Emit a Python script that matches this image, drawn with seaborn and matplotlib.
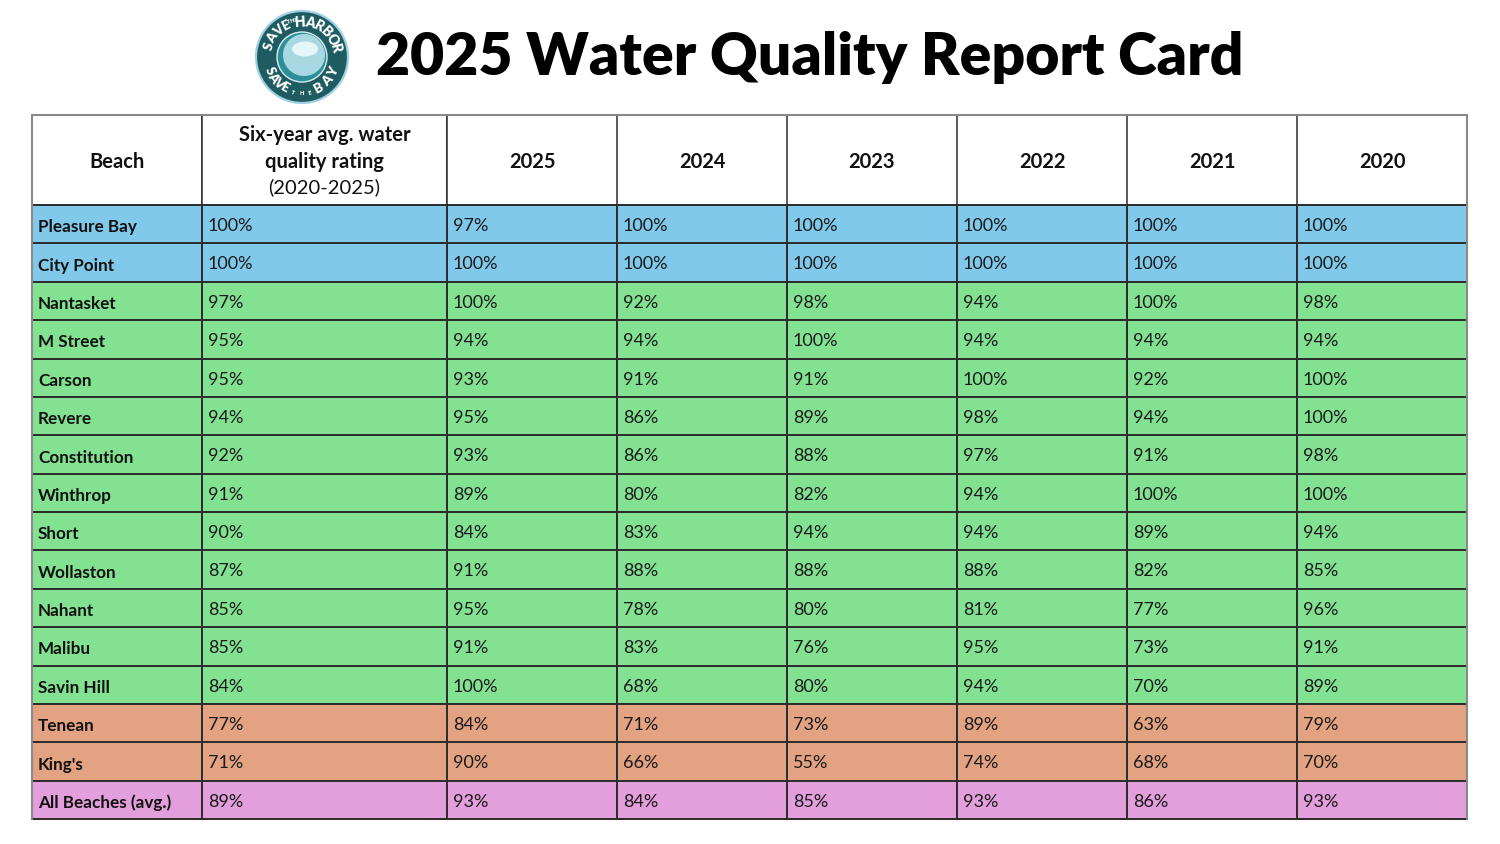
import numpy as np
import pandas as pd
import matplotlib
matplotlib.use("Agg")
import matplotlib.pyplot as plt
import seaborn as sns
from matplotlib.colors import ListedColormap
from matplotlib.patches import Circle, Ellipse

# ---------------- data ----------------
title = "2025 Water Quality Report Card"
beaches = ["Pleasure Bay", "City Point", "Nantasket", "M Street", "Carson", "Revere",
           "Constitution", "Winthrop", "Short", "Wollaston", "Nahant", "Malibu",
           "Savin Hill", "Tenean", "King's", "All Beaches (avg.)"]
six_year = [100, 100, 97, 95, 95, 94, 92, 91, 90, 87, 85, 85, 84, 77, 71, 89]
years = ["2025", "2024", "2023", "2022", "2021", "2020"]
v2025 = [97, 100, 100, 94, 93, 95, 93, 89, 84, 91, 95, 91, 100, 84, 90, 93]
v2024 = [100, 100, 92, 94, 91, 86, 86, 80, 83, 88, 78, 83, 68, 71, 66, 84]
v2023 = [100, 100, 98, 100, 91, 89, 88, 82, 94, 88, 80, 76, 80, 73, 55, 85]
v2022 = [100, 100, 94, 94, 100, 98, 97, 94, 94, 88, 81, 95, 94, 89, 74, 93]
v2021 = [100, 100, 100, 94, 92, 94, 91, 100, 89, 82, 77, 73, 70, 63, 68, 86]
v2020 = [100, 100, 98, 94, 100, 100, 98, 100, 94, 85, 96, 91, 89, 79, 70, 93]
tiers = ["top", "top"] + ["good"] * 11 + ["fair", "fair"] + ["avg"]
tier_names = ["top", "good", "fair", "avg"]
tier_colors = ["#80c9eb", "#82e292", "#e3a282", "#e39edc"]
header_beach = "Beach"
header_six = ["Six-year avg. water", "quality rating", "(2020-2025)"]

yearly = pd.DataFrame({"2025": v2025, "2024": v2024, "2023": v2023,
                       "2022": v2022, "2021": v2021, "2020": v2020})[years]

# ---------------- style ----------------
sns.set_theme(style="white")
plt.rcParams["font.family"] = ["Lato", "DejaVu Sans"]
TABLE_FONT = ["Lato", "DejaVu Sans"]

W, H = 1500, 844
fig = plt.figure(figsize=(15, 8.44), dpi=100)
fig.patch.set_facecolor("white")

top_px, head_px, bot_px = 115, 205, 819
nrows = len(beaches)
row_h = (bot_px - head_px) / nrows
head_rows = (head_px - top_px) / row_h

codes = np.array([tier_names.index(t) for t in tiers])
cmap = ListedColormap(tier_colors)
LINE = "#2e2e2e"
OUTER = "#8a8a8a"

def table_axes(x0, x1, ncols):
    ax = fig.add_axes([x0 / W, 1 - bot_px / H, (x1 - x0) / W, (bot_px - top_px) / H])
    mat = pd.DataFrame(np.repeat(codes[:, None], ncols, axis=1))
    sns.heatmap(mat, ax=ax, cmap=cmap, vmin=-0.5, vmax=3.5, cbar=False,
                linewidths=1.1, linecolor=LINE, xticklabels=False, yticklabels=False)
    ax.collections[0].set_clip_on(False)
    ax.set_xlim(0, ncols)
    ax.set_ylim(nrows, -head_rows)
    ax.set_facecolor("white")
    for s in ax.spines.values():
        s.set_visible(False)
    for xc in range(ncols + 1):
        ax.plot([xc, xc], [-head_rows, 0], color=LINE, lw=1.1, clip_on=False, zorder=3)
    ax.plot([0, ncols], [-head_rows, -head_rows], color=OUTER, lw=1.5, clip_on=False, zorder=4)
    return ax

edges = [32, 202, 447, 1467]
ax_b = table_axes(edges[0], edges[1], 1)
ax_s = table_axes(edges[1], edges[2], 1)
ax_y = table_axes(edges[2], edges[3], len(years))

ax_b.plot([0, 0], [-head_rows, nrows], color=OUTER, lw=1.5, clip_on=False, zorder=4)
ax_y.plot([6, 6], [-head_rows, nrows], color=OUTER, lw=1.5, clip_on=False, zorder=4)

NAME = 12.3
VAL = 13.0
HEAD = 14.5
pad_b = 6 / (edges[1] - edges[0])
pad_s = 6 / (edges[2] - edges[1])
pad_y = 6 / 170

for i, name in enumerate(beaches):
    ax_b.text(pad_b, i + 0.58, name, ha="left", va="center", fontsize=NAME,
              fontweight="bold", color="#111111", family=TABLE_FONT)
    ax_s.text(pad_s, i + 0.55, f"{six_year[i]}%", ha="left", va="center",
              fontsize=VAL, color="#1a1a1a", family=TABLE_FONT)
    for j, yr in enumerate(years):
        ax_y.text(j + pad_y, i + 0.55, f"{yearly[yr].iloc[i]}%", ha="left", va="center",
                  fontsize=VAL, color="#1a1a1a", family=TABLE_FONT)

hmid = -head_rows / 2
ax_b.text(0.5, hmid + 0.05, header_beach, ha="center", va="center", fontsize=HEAD,
          fontweight="bold", color="#111111", family=TABLE_FONT)
ax_s.text(0.5, hmid - 0.64, header_six[0], ha="center", va="center", fontsize=HEAD,
          fontweight="bold", color="#111111", family=TABLE_FONT)
ax_s.text(0.5, hmid + 0.04, header_six[1], ha="center", va="center", fontsize=HEAD,
          fontweight="bold", color="#111111", family=TABLE_FONT)
ax_s.text(0.5, hmid + 0.70, header_six[2], ha="center", va="center", fontsize=HEAD,
          color="#111111", family=TABLE_FONT)
for j, yr in enumerate(years):
    ax_y.text(j + 0.5, hmid + 0.05, yr, ha="center", va="center", fontsize=HEAD,
              fontweight="bold", color="#111111", family=TABLE_FONT)

# ---------------- title + logo ----------------
axo = fig.add_axes([0, 0, 1, 1], zorder=-1)
axo.set_xlim(0, W)
axo.set_ylim(H, 0)
axo.axis("off")
axo.text(376, 58, title, ha="left", va="center", fontsize=42.4, fontweight="heavy",
         color="#000000", family=["Lato", "DejaVu Sans"])

cx, cy = 302, 57
axo.add_patch(Circle((cx, cy), 46, facecolor="#1f5c61", edgecolor="#9fd0e4", lw=1.6))
axo.add_patch(Circle((cx, cy), 25, facecolor="#2f8f99", edgecolor="#d6eef3", lw=1.0))
axo.add_patch(Circle((cx + 2, cy - 2), 21, facecolor="#a8d8e2", edgecolor="none"))
axo.add_patch(Ellipse((cx + 3, cy - 8), 26, 15, facecolor="#e6f5f7", edgecolor="none"))

def arc_text(txt, a0, a1, r, top=True, size=8.2):
    angs = np.linspace(a0, a1, len(txt))
    for ch, a in zip(txt, angs):
        if ch == " ":
            continue
        x = cx + r * np.cos(np.radians(a))
        y = cy - r * np.sin(np.radians(a))
        rot = a - 90 if top else a + 90
        axo.text(x, y, ch, ha="center", va="center", rotation=rot, fontsize=size,
                 fontweight="heavy", color="white", rotation_mode="anchor",
                 family=["Lato", "DejaVu Sans"])

arc_text("SAVE", 162, 117, 35, top=True, size=9.5)
arc_text("HARBOR", 93, 14, 35, top=True, size=10)
arc_text("SAVE", 203, 240, 35, top=False, size=9.5)
arc_text("BAY", 298, 334, 35, top=False, size=9.5)
arc_text("THE", 111, 100, 37, top=True, size=4)
arc_text("THE", 256, 282, 37, top=False, size=4)

fig.savefig("out.png", dpi=100, facecolor="white")
